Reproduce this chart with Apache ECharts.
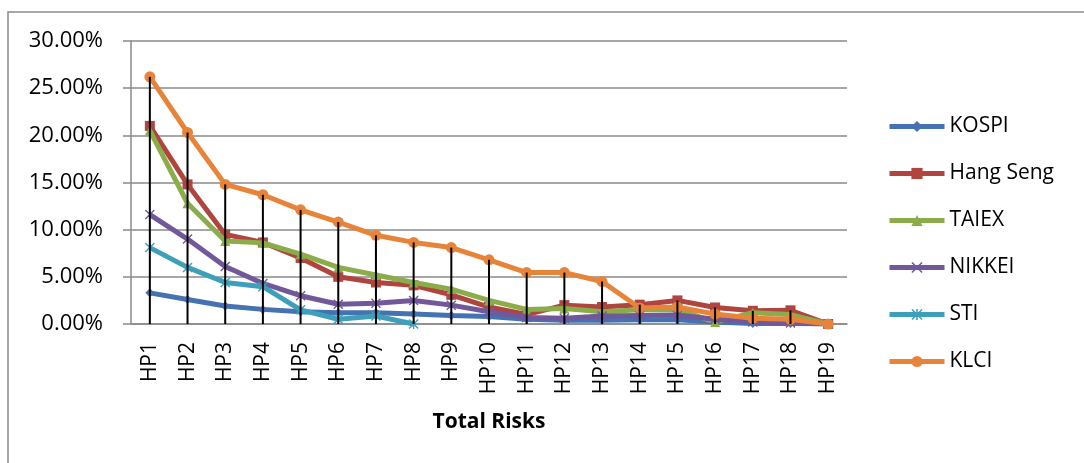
<!DOCTYPE html>
<html>
<head>
<meta charset="utf-8">
<script src="https://cdn.jsdelivr.net/npm/echarts@6/dist/echarts.min.js"></script>
<style>html,body{margin:0;padding:0;background:#fff}#c{width:1084px;height:463px}</style>
</head>
<body>
<div id="c"></div>
<script>
var categories = ['HP1','HP2','HP3','HP4','HP5','HP6','HP7','HP8','HP9','HP10','HP11','HP12','HP13','HP14','HP15','HP16','HP17','HP18','HP19'];
var kospi   = [3.3, 2.6, 1.9, 1.55, 1.3, 1.2, 1.2, 1.05, 0.9, 0.8, 0.5, 0.4, 0.4, 0.45, 0.45, 0.2, 0.05, 0.05, 0.0];
var hangSeng= [21.0, 14.8, 9.5, 8.65, 7.0, 5.0, 4.4, 4.1, 3.1, 1.8, 1.0, 2.0, 1.8, 2.05, 2.5, 1.75, 1.4, 1.45, 0.0];
var taiex   = [20.5, 12.8, 8.8, 8.6, 7.4, 6.0, 5.2, 4.4, 3.7, 2.5, 1.55, 1.65, 1.3, 1.5, 1.55, 0.2, 1.2, 1.0, 0.0];
var nikkei  = [11.6, 9.0, 6.1, 4.3, 3.0, 2.1, 2.2, 2.5, 2.0, 1.3, 0.7, 0.6, 0.85, 0.9, 0.95, 0.5, 0.2, 0.1, 0.0];
var sti     = [8.1, 6.0, 4.4, 3.95, 1.5, 0.5, 0.85, 0.0, null, null, null, null, null, null, null, null, null, null, null];
var klci    = [26.2, 20.3, 14.8, 13.7, 12.1, 10.8, 9.4, 8.65, 8.1, 6.8, 5.45, 5.45, 4.5, 1.7, 1.8, 1.05, 0.6, 0.5, 0.0];
var yTicks  = [0, 5, 10, 15, 20, 25, 30];

var seriesNames = ['KOSPI','Hang Seng','TAIEX','NIKKEI','STI','KLCI'];
var seriesData = [kospi, hangSeng, taiex, nikkei, sti, klci];
var colors = ['#4572B0','#B0443F','#8AAD4A','#71589A','#3E9FBA','#E8843A'];
var xSym = 'path://M0,1L1,0L5,4L9,0L10,1L6,5L10,9L9,10L5,6L1,10L0,9L4,5Z';
var starSym = 'path://M0,1L1,0L5,4L9,0L10,1L6,5L10,9L9,10L5,6L1,10L0,9L4,5ZM4.3,0L5.7,0L5.7,10L4.3,10Z';
var symbols = ['diamond','rect','triangle',xSym,starSym,'circle'];
var symSizes = [9, 10, 10, 10, 10, 11];

var dropData = categories.map(function(c, i){
  var m = 0;
  seriesData.forEach(function(s){ if (s[i] != null && s[i] > m) m = s[i]; });
  return m;
});

var font = 'Open Sans';
var series = seriesNames.map(function(n, k){
  return {
    name: n, type: 'line', data: seriesData[k],
    symbol: symbols[k], symbolSize: symSizes[k], showSymbol: true,
    lineStyle: {width: 5, color: colors[k]},
    itemStyle: {color: colors[k]},
    emphasis: {disabled: true},
    z: 3 + k
  };
});
series.push({
  name: 'drop', type: 'bar', data: dropData, barWidth: 2,
  itemStyle: {color: '#000'}, z: 20, silent: true
});

var chart = echarts.init(document.getElementById('c'));
chart.setOption({
  animation: false,
  textStyle: {fontFamily: font},
  graphic: [{
    type: 'rect', shape: {x: 8, y: 12, width: 1200, height: 600},
    style: {fill: 'none', stroke: '#8a8a8a', lineWidth: 1.5}, silent: true, z: 0
  }],
  grid: {left: 131, right: 237, top: 41, bottom: 139, containLabel: false},
  legend: {
    data: seriesNames, orient: 'vertical', left: 882, top: 111,
    itemWidth: 55, itemHeight: 14, itemGap: 26,
    lineStyle: {width: 5},
    textStyle: {fontFamily: font, fontSize: 21, color: '#000'}
  },
  xAxis: {
    type: 'category', data: categories,
    axisLine: {lineStyle: {color: '#8a8a8a', width: 1.5}},
    axisTick: {show: false},
    axisLabel: {rotate: 90, margin: 18, fontSize: 21, color: '#000', fontFamily: font, interval: 0},
    name: 'Total Risks', nameLocation: 'middle', nameGap: 88,
    nameTextStyle: {fontSize: 21, fontWeight: 'bold', color: '#000', fontFamily: font}
  },
  yAxis: {
    type: 'value', min: yTicks[0], max: yTicks[yTicks.length-1], interval: 5,
    axisLine: {show: true, lineStyle: {color: '#8a8a8a', width: 1.5}},
    axisTick: {show: true, length: 8, lineStyle: {color: '#8a8a8a', width: 1.5}},
    splitLine: {lineStyle: {color: '#8a8a8a', width: 1.5}},
    axisLabel: {margin: 28, fontSize: 22, color: '#000', fontFamily: font,
      formatter: function(v){ return v.toFixed(2) + '%'; }}
  },
  series: series
});
</script>
</body>
</html>
